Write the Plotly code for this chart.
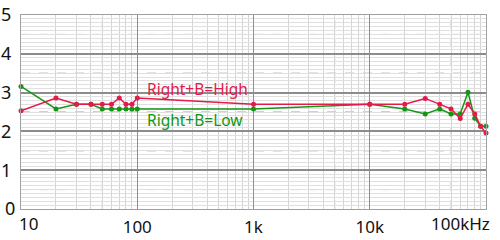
import plotly.graph_objects as go

freq = [10, 20, 30, 40, 50, 60, 70, 80, 90, 100, 1000, 10000,
        20000, 30000, 40000, 50000, 60000, 70000, 80000, 90000, 100000]
high = [2.53, 2.86, 2.70, 2.70, 2.70, 2.70, 2.86, 2.70, 2.70, 2.86, 2.70, 2.70,
        2.70, 2.85, 2.70, 2.58, 2.33, 2.70, 2.45, 2.13, 1.96]
low = [3.16, 2.58, 2.70, 2.70, 2.58, 2.58, 2.58, 2.58, 2.58, 2.58, 2.58, 2.70,
       2.58, 2.45, 2.58, 2.45, 2.45, 3.01, 2.34, 2.13, 2.13]
x_tickvals = [100, 1000, 10000]
x_ticktext = ["100", "1k", "10k"]
y_tickvals = [1, 2, 3, 4, 5]
labels = ["Right+B=High", "Right+B=Low"]

RED = "#e31a4a"
GREEN = "#149614"
FONT = "Noto Sans"

fig = go.Figure()
fig.add_trace(go.Scatter(x=freq, y=low, mode="lines+markers", line=dict(color=GREEN, width=1.5),
                         marker=dict(color=GREEN, size=5), showlegend=False, cliponaxis=False))
fig.add_trace(go.Scatter(x=freq, y=high, mode="lines+markers", line=dict(color=RED, width=1.5),
                         marker=dict(color=RED, size=5), showlegend=False, cliponaxis=False))

shapes = []
for yv in [0.5, 1.5, 2.5, 3.5, 4.5]:
    shapes.append(dict(type="line", xref="paper", x0=0, x1=1, yref="y", y0=yv, y1=yv,
                       line=dict(color="#a0a0a0", width=1, dash="dash"), layer="below"))
for dec in [10, 100, 1000, 10000]:
    shapes.append(dict(type="line", xref="x", x0=5 * dec, x1=5 * dec, yref="paper", y0=0, y1=1,
                       line=dict(color="#c8c8c8", width=1, dash="dash"), layer="below"))

fig.update_layout(
    width=500, height=240,
    margin=dict(l=21, r=14, t=15, b=31, autoexpand=False),
    paper_bgcolor="white", plot_bgcolor="white",
    font=dict(family=FONT, color="#111", size=16),
    shapes=shapes,
    xaxis=dict(type="log", range=[1, 5], tickvals=x_tickvals, ticktext=x_ticktext,
               automargin=False, ticklabeloverflow="allow",
               showgrid=True, gridcolor="#909090", gridwidth=1,
               minor=dict(dtick="D1", showgrid=True, gridcolor="#d4d4d4", gridwidth=1, ticks=""),
               showline=True, linecolor="#a0a0a0", mirror=True, ticks="", zeroline=False,
               ticklabelstandoff=3, tickfont=dict(size=17)),
    yaxis=dict(range=[0, 5], tickvals=y_tickvals, automargin=False, ticklabeloverflow="allow",
               showgrid=True, gridcolor="#8c8c8c", gridwidth=1.5,
               minor=dict(dtick=0.1, showgrid=True, gridcolor="#e0e0e0", gridwidth=1, ticks=""),
               showline=True, linecolor="#a0a0a0", mirror=True, ticks="", zeroline=False,
               ticklabelstandoff=5, tickfont=dict(size=18)),
    annotations=[
        dict(x=2.066, y=3.10, xref="x", yref="y", text=labels[0], showarrow=False,
             xanchor="left", yanchor="middle",
             font=dict(color=RED, size=15.5, family=FONT)),
        dict(x=2.066, y=2.30, xref="x", yref="y", text=labels[1], showarrow=False,
             xanchor="left", yanchor="middle",
             font=dict(color=GREEN, size=15.5, family=FONT)),
        dict(x=1, y=0, xref="x", yref="paper", text="10", showarrow=False,
             xanchor="center", yanchor="top", xshift=7, yshift=-1, font=dict(size=17)),
        dict(x=5, y=0, xref="x", yref="paper", text="100kHz", showarrow=False,
             xanchor="right", yanchor="top", xshift=6, yshift=-1, font=dict(size=17)),
        dict(x=0, y=0, xref="paper", yref="paper", text="0", showarrow=False,
             xanchor="right", yanchor="middle", xshift=-4, yshift=1,
             font=dict(size=18, color="#111")),
    ],
)

fig.write_html("out.html")
